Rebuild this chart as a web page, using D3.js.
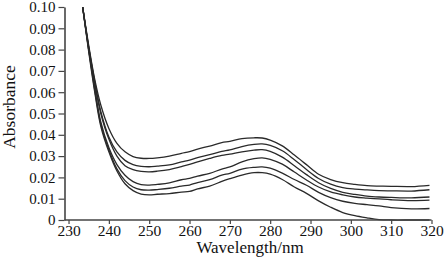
<!DOCTYPE html>
<html>
<head>
<meta charset="utf-8">
<script src="https://cdn.jsdelivr.net/npm/d3@7"></script>
<style>
  html, body { margin: 0; padding: 0; background: #fff; }
  svg { display: block; }
  svg text { font-family: "Liberation Serif", "Times New Roman", Tinos, serif; fill: #111; }
</style>
</head>
<body>
<svg id="chart" width="445" height="264"></svg>
<script>
// ---- data ----
const wavelengths = [233.5,235,236.5,238,240,242,244,246,248,250,252,255,258,260,262,265,268,270,273,276,278,280,283,286,289,292,295,298,301,304,307,310,315,319.5];

const spectrum1 = [0.100,0.082,0.066,0.054,0.043,0.036,0.032,0.0298,0.0290,0.0289,0.0292,0.0300,0.0313,0.0321,0.0333,0.0347,0.0363,0.0369,0.0382,0.0386,0.0385,0.0375,0.0348,0.0305,0.0260,0.0215,0.0190,0.0175,0.0167,0.0161,0.0159,0.0158,0.0157,0.0163];
const spectrum2 = [0.100,0.081,0.065,0.051,0.039,0.032,0.028,0.0260,0.0252,0.0250,0.0253,0.0259,0.0273,0.0281,0.0293,0.0307,0.0322,0.0329,0.0345,0.0355,0.0357,0.0350,0.0325,0.0283,0.0237,0.0195,0.0168,0.0152,0.0145,0.0141,0.0138,0.0137,0.0136,0.0142];
const spectrum3 = [0.100,0.081,0.064,0.050,0.038,0.030,0.0255,0.0236,0.0228,0.0226,0.0229,0.0237,0.0251,0.0261,0.0273,0.0289,0.0303,0.0309,0.0320,0.0328,0.0330,0.0322,0.0295,0.0255,0.0213,0.0175,0.0148,0.0130,0.0120,0.0112,0.0108,0.0106,0.0104,0.0108];
const spectrum4 = [0.100,0.080,0.062,0.046,0.034,0.026,0.021,0.0180,0.0166,0.0164,0.0167,0.0174,0.0189,0.0195,0.0206,0.0219,0.0239,0.0249,0.0273,0.0288,0.0292,0.0285,0.0262,0.0225,0.0188,0.0155,0.0132,0.0118,0.0108,0.0103,0.0099,0.0095,0.0091,0.0093];
const spectrum5 = [0.100,0.080,0.061,0.045,0.033,0.024,0.0185,0.0155,0.0142,0.0140,0.0143,0.0149,0.0159,0.0164,0.0176,0.0189,0.0211,0.0219,0.0239,0.0247,0.0249,0.0243,0.0220,0.0190,0.0163,0.0130,0.0105,0.0088,0.0078,0.0072,0.0066,0.0058,0.0052,0.0054];
const spectrum6 = [0.100,0.079,0.060,0.044,0.032,0.023,0.0170,0.0138,0.0122,0.0118,0.0121,0.0124,0.0131,0.0134,0.0146,0.0159,0.0181,0.0194,0.0211,0.0222,0.0222,0.0215,0.0190,0.0155,0.0125,0.0090,0.0060,0.0035,0.0020,0.0010,0.0002,0.0000,0.0000,0.0000];
const spectra = [spectrum1, spectrum2, spectrum3, spectrum4, spectrum5, spectrum6];

const xTickValues = [230,240,250,260,270,280,290,300,310,320];
const yTickValues = [0,0.01,0.02,0.03,0.04,0.05,0.06,0.07,0.08,0.09,0.10];
const xLabel = "Wavelength/nm";
const yLabel = "Absorbance";

// ---- drawing ----
const svg = d3.select("#chart");
const x = d3.scaleLinear().domain([229, 320]).range([64.5, 431.5]);
const y = d3.scaleLinear().domain([0, 0.10]).range([220, 7]);

const axisColor = "#444";
const fontStyle = "font-family: 'Liberation Serif', 'Times New Roman', Tinos, serif";

const line = d3.line()
  .x((d, i) => x(wavelengths[i]))
  .y(d => y(d))
  .curve(d3.curveCatmullRom.alpha(0.5));

svg.append("g")
  .selectAll("path")
  .data(spectra)
  .join("path")
  .attr("d", d => line(d))
  .attr("fill", "none")
  .attr("stroke", "#2a2a2a")
  .attr("stroke-width", 1.3);

// x axis
const gx = svg.append("g")
  .attr("transform", `translate(0,${y(0)})`)
  .call(d3.axisBottom(x).tickValues(xTickValues).tickFormat(d3.format("d")).tickSize(4).tickPadding(0.5).tickSizeOuter(0));
gx.attr("font-family", null).attr("font-size", null);
gx.select(".domain").attr("stroke", axisColor).attr("stroke-width", 1.6)
  .attr("d", `M${x(229)},0H${x(320)}`);
gx.selectAll(".tick line").attr("stroke", axisColor).attr("stroke-width", 1.2);
gx.selectAll(".tick text").attr("style", fontStyle + "; font-size: 15.5px").attr("fill", "#111");

// y axis
const gy = svg.append("g")
  .attr("transform", `translate(${x(229)},0)`)
  .call(d3.axisLeft(y).tickValues(yTickValues).tickFormat((d) => d === 0 ? "0" : d3.format(".2f")(d)).tickSize(6).tickPadding(3).tickSizeOuter(0));
gy.attr("font-family", null).attr("font-size", null);
gy.select(".domain").attr("stroke", axisColor).attr("stroke-width", 1.6);
gy.selectAll(".tick line").attr("stroke", axisColor).attr("stroke-width", 1.2);
gy.selectAll(".tick text").attr("style", fontStyle + "; font-size: 15px").attr("fill", "#111");

// axis titles
svg.append("text")
  .attr("x", 250)
  .attr("y", 252.5)
  .attr("text-anchor", "middle")
  .attr("style", fontStyle + "; font-size: 17px")
  .text(xLabel);

svg.append("text")
  .attr("transform", "translate(15,107) rotate(-90)")
  .attr("text-anchor", "middle")
  .attr("style", fontStyle + "; font-size: 17.5px")
  .text(yLabel);
</script>
</body>
</html>
